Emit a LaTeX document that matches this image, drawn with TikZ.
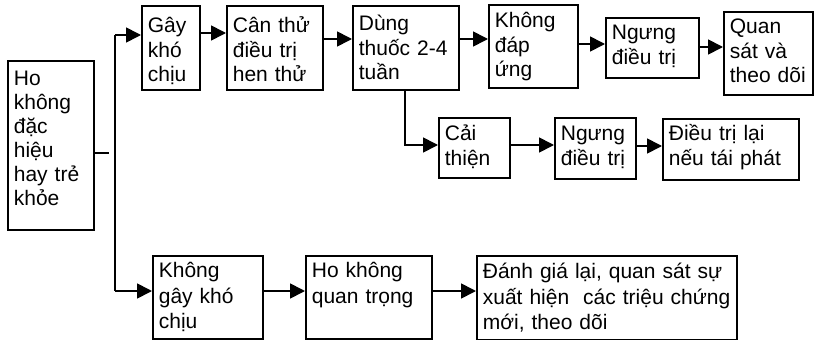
\documentclass[tikz,border=0pt]{standalone}
\usepackage{fontspec}
\setmainfont{Liberation Sans}
\usetikzlibrary{arrows.meta}
\tikzset{
  bx/.style={draw, line width=1.7pt, anchor=north west, inner xsep=6pt, inner ysep=0pt,
    align=left, font=\fontsize{21}{24.5}\selectfont},
  bxb/.style={bx, font=\fontsize{21}{25.5}\selectfont},
  ln/.style={line width=1.7pt},
  arr/.style={line width=1.7pt, -{Triangle[length=15pt,width=15pt]}}
}
\begin{document}
\lineskiplimit=-30pt
\begin{tikzpicture}[x=1pt,y=-1pt]
\useasboundingbox (0,0) rectangle (814,340);
% boxes
\node[bx, font=\fontsize{21}{24}\selectfont, text width=74pt, text height=25pt, text depth=144pt] (ho) at (7,60) {Ho\\không\\đặc\\hiệu\\hay trẻ\\khỏe};
\node[bx, text width=46pt, text height=27pt, text depth=57pt] (gay) at (141,5) {Gây\\khó\\chịu};
\node[bx, text width=84pt, text height=27pt, text depth=57pt] (can) at (226,5) {Cân thử\\điều trị\\hen thử};
\node[bx, text width=94pt, text height=25pt, text depth=59pt] (dung) at (352,5) {Dùng\\thuốc 2-4\\tuần};
\node[bx, text width=77pt, text height=23pt, text depth=60pt] (kdu) at (488,4) {Không\\đáp\\ứng};
\node[bx, text width=81pt, text height=22pt, text depth=38pt] (ngung) at (605,17) {Ngưng\\điều trị};
\node[bx, text width=77pt, text height=22pt, text depth=61pt] (quan) at (723,11) {Quan\\sát và\\theo dõi};
\node[bx, text width=59pt, text height=23pt, text depth=37pt] (cai) at (438,117) {Cải\\thiện};
\node[bx, text width=69pt, text height=23pt, text depth=38pt] (ngungb) at (554,117) {Ngưng\\điều trị};
\node[bx, text width=124pt, text height=22pt, text depth=39pt] (dtl) at (662,118) {Điều trị lại\\nếu tái phát};
\node[bxb, text width=98pt, text height=22pt, text depth=61pt] (kgay) at (152,255) {Không\\gây khó\\chịu};
\node[bxb, text width=114pt, text height=22pt, text depth=61pt] (hkqt) at (305,255) {Ho không\\quan trọng};
\node[bxb, text width=248pt, text height=23pt, text depth=61pt] (dg) at (476,255) {Đánh giá lại, quan sát sự\\xuất hiện\ \ các triệu chứng\\mới, theo dõi};
% connectors
\coordinate (hoend) at (109,153);
\coordinate (splt) at (115,35);
\coordinate (spltb) at (115,291);
\draw[ln] (ho.east |- hoend) -- (hoend);
\draw[ln] (splt) -- (spltb);
\draw[arr] (splt) -- (gay.west |- splt);
\draw[arr] (spltb) -- (kgay.west |- spltb);
\draw[arr] (gay.east |- 0,33) -- (can.west |- 0,33);
\draw[arr] (can.east |- 0,39) -- (dung.west |- 0,39);
\draw[arr] (dung.east |- 0,39) -- (kdu.west |- 0,39);
\draw[arr] (kdu.east |- 0,44) -- (ngung.west |- 0,44);
\draw[arr] (ngung.east |- 0,47) -- (quan.west |- 0,47);
\draw[arr] (dung.south -| 405,0) |- (cai.west |- 0,145);
\draw[arr] (cai.east |- 0,145) -- (ngungb.west |- 0,145);
\draw[arr] (ngungb.east |- 0,146) -- (dtl.west |- 0,146);
\draw[arr] (kgay.east |- 0,291) -- (hkqt.west |- 0,291);
\draw[arr] (hkqt.east |- 0,291) -- (dg.west |- 0,291);
\end{tikzpicture}
\end{document}
